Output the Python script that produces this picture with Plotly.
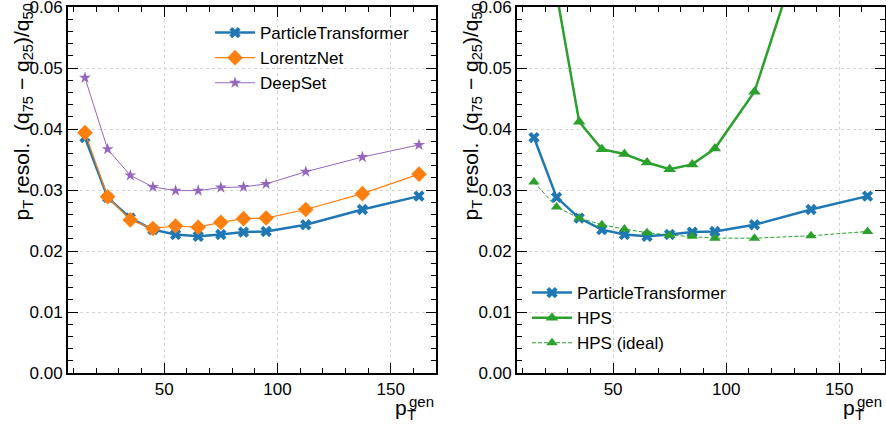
import plotly.graph_objects as go

# ---- data ----
pt_bins = [15, 25, 35, 45, 55, 65, 75, 85, 95, 112.5, 137.5, 162.5]
particle_transformer = [0.0386, 0.0288, 0.0254, 0.0235, 0.0227, 0.0224, 0.0227, 0.0231, 0.0232, 0.0243, 0.0268, 0.0290]
lorentznet = [0.0394, 0.0289, 0.0251, 0.0237, 0.0241, 0.0239, 0.0247, 0.0253, 0.0254, 0.0268, 0.0294, 0.0326]
deepset = [0.0484, 0.0367, 0.0324, 0.0305, 0.0299, 0.0299, 0.0304, 0.0305, 0.0310, 0.0330, 0.0354, 0.0374]
hps = [0.0900, 0.0622, 0.0412, 0.0367, 0.0359, 0.0345, 0.0334, 0.0342, 0.0368, 0.0461, 0.0746, 0.1100]
hps_ideal = [0.0313, 0.0272, 0.0254, 0.0243, 0.0236, 0.0230, 0.0226, 0.0224, 0.0221, 0.0221, 0.0225, 0.0232]

BLUE, ORANGE, PURPLE, GREEN = "#1f77b4", "#ff7f0e", "#9467bd", "#2ca02c"
FONT = "Liberation Sans, Arial, sans-serif"
W, H = 886, 424
ML, MR, MT, MB = 0, 0, 7, 51
PH = H - MT - MB

def px_x(p):
    return p / W

def px_y(p):
    return (H - MB - p) / PH

fig = go.Figure()

# left panel
fig.add_trace(go.Scatter(x=pt_bins, y=particle_transformer, name="ParticleTransformer",
                         mode="lines+markers", line=dict(color=BLUE, width=2.5),
                         marker=dict(symbol="x", size=10, color=BLUE),
                         xaxis="x", yaxis="y", legend="legend"))
fig.add_trace(go.Scatter(x=pt_bins, y=lorentznet, name="LorentzNet",
                         mode="lines+markers", line=dict(color=ORANGE, width=1.2),
                         marker=dict(symbol="diamond", size=12, color=ORANGE),
                         xaxis="x", yaxis="y", legend="legend"))
fig.add_trace(go.Scatter(x=pt_bins, y=deepset, name="DeepSet",
                         mode="lines+markers", line=dict(color=PURPLE, width=1),
                         marker=dict(symbol="star", size=9, color=PURPLE),
                         xaxis="x", yaxis="y", legend="legend"))

# right panel
fig.add_trace(go.Scatter(x=pt_bins, y=particle_transformer, name="ParticleTransformer",
                         mode="lines+markers", line=dict(color=BLUE, width=2.5),
                         marker=dict(symbol="x", size=10, color=BLUE),
                         xaxis="x2", yaxis="y2", legend="legend2"))
fig.add_trace(go.Scatter(x=pt_bins, y=hps, name="HPS",
                         mode="lines+markers", line=dict(color=GREEN, width=2.5),
                         marker=dict(symbol="triangle-up", size=11, color=GREEN),
                         xaxis="x2", yaxis="y2", legend="legend2"))
fig.add_trace(go.Scatter(x=pt_bins, y=hps_ideal, name="HPS (ideal)",
                         mode="lines+markers", line=dict(color=GREEN, width=1, dash="4px,2px"),
                         marker=dict(symbol="triangle-up", size=10, color=GREEN),
                         xaxis="x2", yaxis="y2", legend="legend2"))

xcommon = dict(range=[7.5, 170], tick0=0, dtick=50, ticks="inside", ticklen=10, tickwidth=1,
               tickcolor="black", showline=True, linecolor="black", linewidth=2, mirror="allticks",
               showgrid=True, gridcolor="#d4d4d4", griddash="dot", gridwidth=1, zeroline=False,
               ticklabeloverflow="allow",
               tickfont=dict(family=FONT, size=17, color="black"),
               minor=dict(dtick=10, tick0=0, ticks="inside", ticklen=5, tickcolor="black", tickwidth=1, showgrid=False))
ycommon = dict(range=[0, 0.0600001], tick0=0, dtick=0.01, tickformat=".2f", ticks="inside", ticklen=10, tickwidth=1,
               tickcolor="black", showline=True, linecolor="black", linewidth=2, mirror="allticks",
               showgrid=True, gridcolor="#d4d4d4", griddash="dot", gridwidth=1, zeroline=False,
               ticklabeloverflow="allow",
               tickfont=dict(family=FONT, size=17, color="black"),
               minor=dict(dtick=0.002, tick0=0, ticks="inside", ticklen=5, tickcolor="black", tickwidth=1, showgrid=False))

fig.update_layout(
    width=W, height=H, margin=dict(l=ML, r=MR, t=MT, b=MB, autoexpand=False),
    paper_bgcolor="white", plot_bgcolor="white",
    font=dict(family=FONT, size=17, color="black"),
    xaxis=dict(domain=[68 / W, 436 / W], anchor="y", **xcommon),
    yaxis=dict(domain=[0, 1], anchor="x", **ycommon),
    xaxis2=dict(domain=[517 / W, 884.5 / W], anchor="y2", **xcommon),
    yaxis2=dict(domain=[0, 1], anchor="x2", **ycommon),
    legend=dict(x=px_x(210), y=px_y(15), xanchor="left", yanchor="top", itemwidth=40,
                bgcolor="rgba(0,0,0,0)", font=dict(family=FONT, size=17)),
    legend2=dict(x=px_x(527), y=px_y(275), xanchor="left", yanchor="top", itemwidth=40,
                 bgcolor="rgba(0,0,0,0)", font=dict(family=FONT, size=17)),
    showlegend=True,
)

ylabel = "p<sub>T</sub> resol. &nbsp;(q<sub>75</sub> − q<sub>25</sub>)/q<sub>50</sub>"
annots = []
for cx in (22, 471):
    annots.append(dict(text=ylabel, textangle=-90, xref="paper", yref="paper",
                       x=px_x(cx), y=px_y(2), xanchor="center", yanchor="top",
                       showarrow=False, font=dict(family=FONT, size=21, color="black")))
for right in (436, 884):
    annots.append(dict(text="p", xref="paper", yref="paper", x=px_x(right - 27), y=px_y(407),
                       xanchor="right", yanchor="middle", showarrow=False,
                       font=dict(family=FONT, size=21, color="black")))
    annots.append(dict(text="T", xref="paper", yref="paper", x=px_x(right - 31), y=px_y(414),
                       xanchor="left", yanchor="middle", showarrow=False,
                       font=dict(family=FONT, size=15, color="black")))
    annots.append(dict(text="gen", xref="paper", yref="paper", x=px_x(right), y=px_y(401),
                       xanchor="right", yanchor="middle", showarrow=False,
                       font=dict(family=FONT, size=15, color="black")))
fig.update_layout(annotations=annots)

fig.write_html("out.html", config={"displayModeBar": False},
               post_script="document.body.style.margin='0';")
